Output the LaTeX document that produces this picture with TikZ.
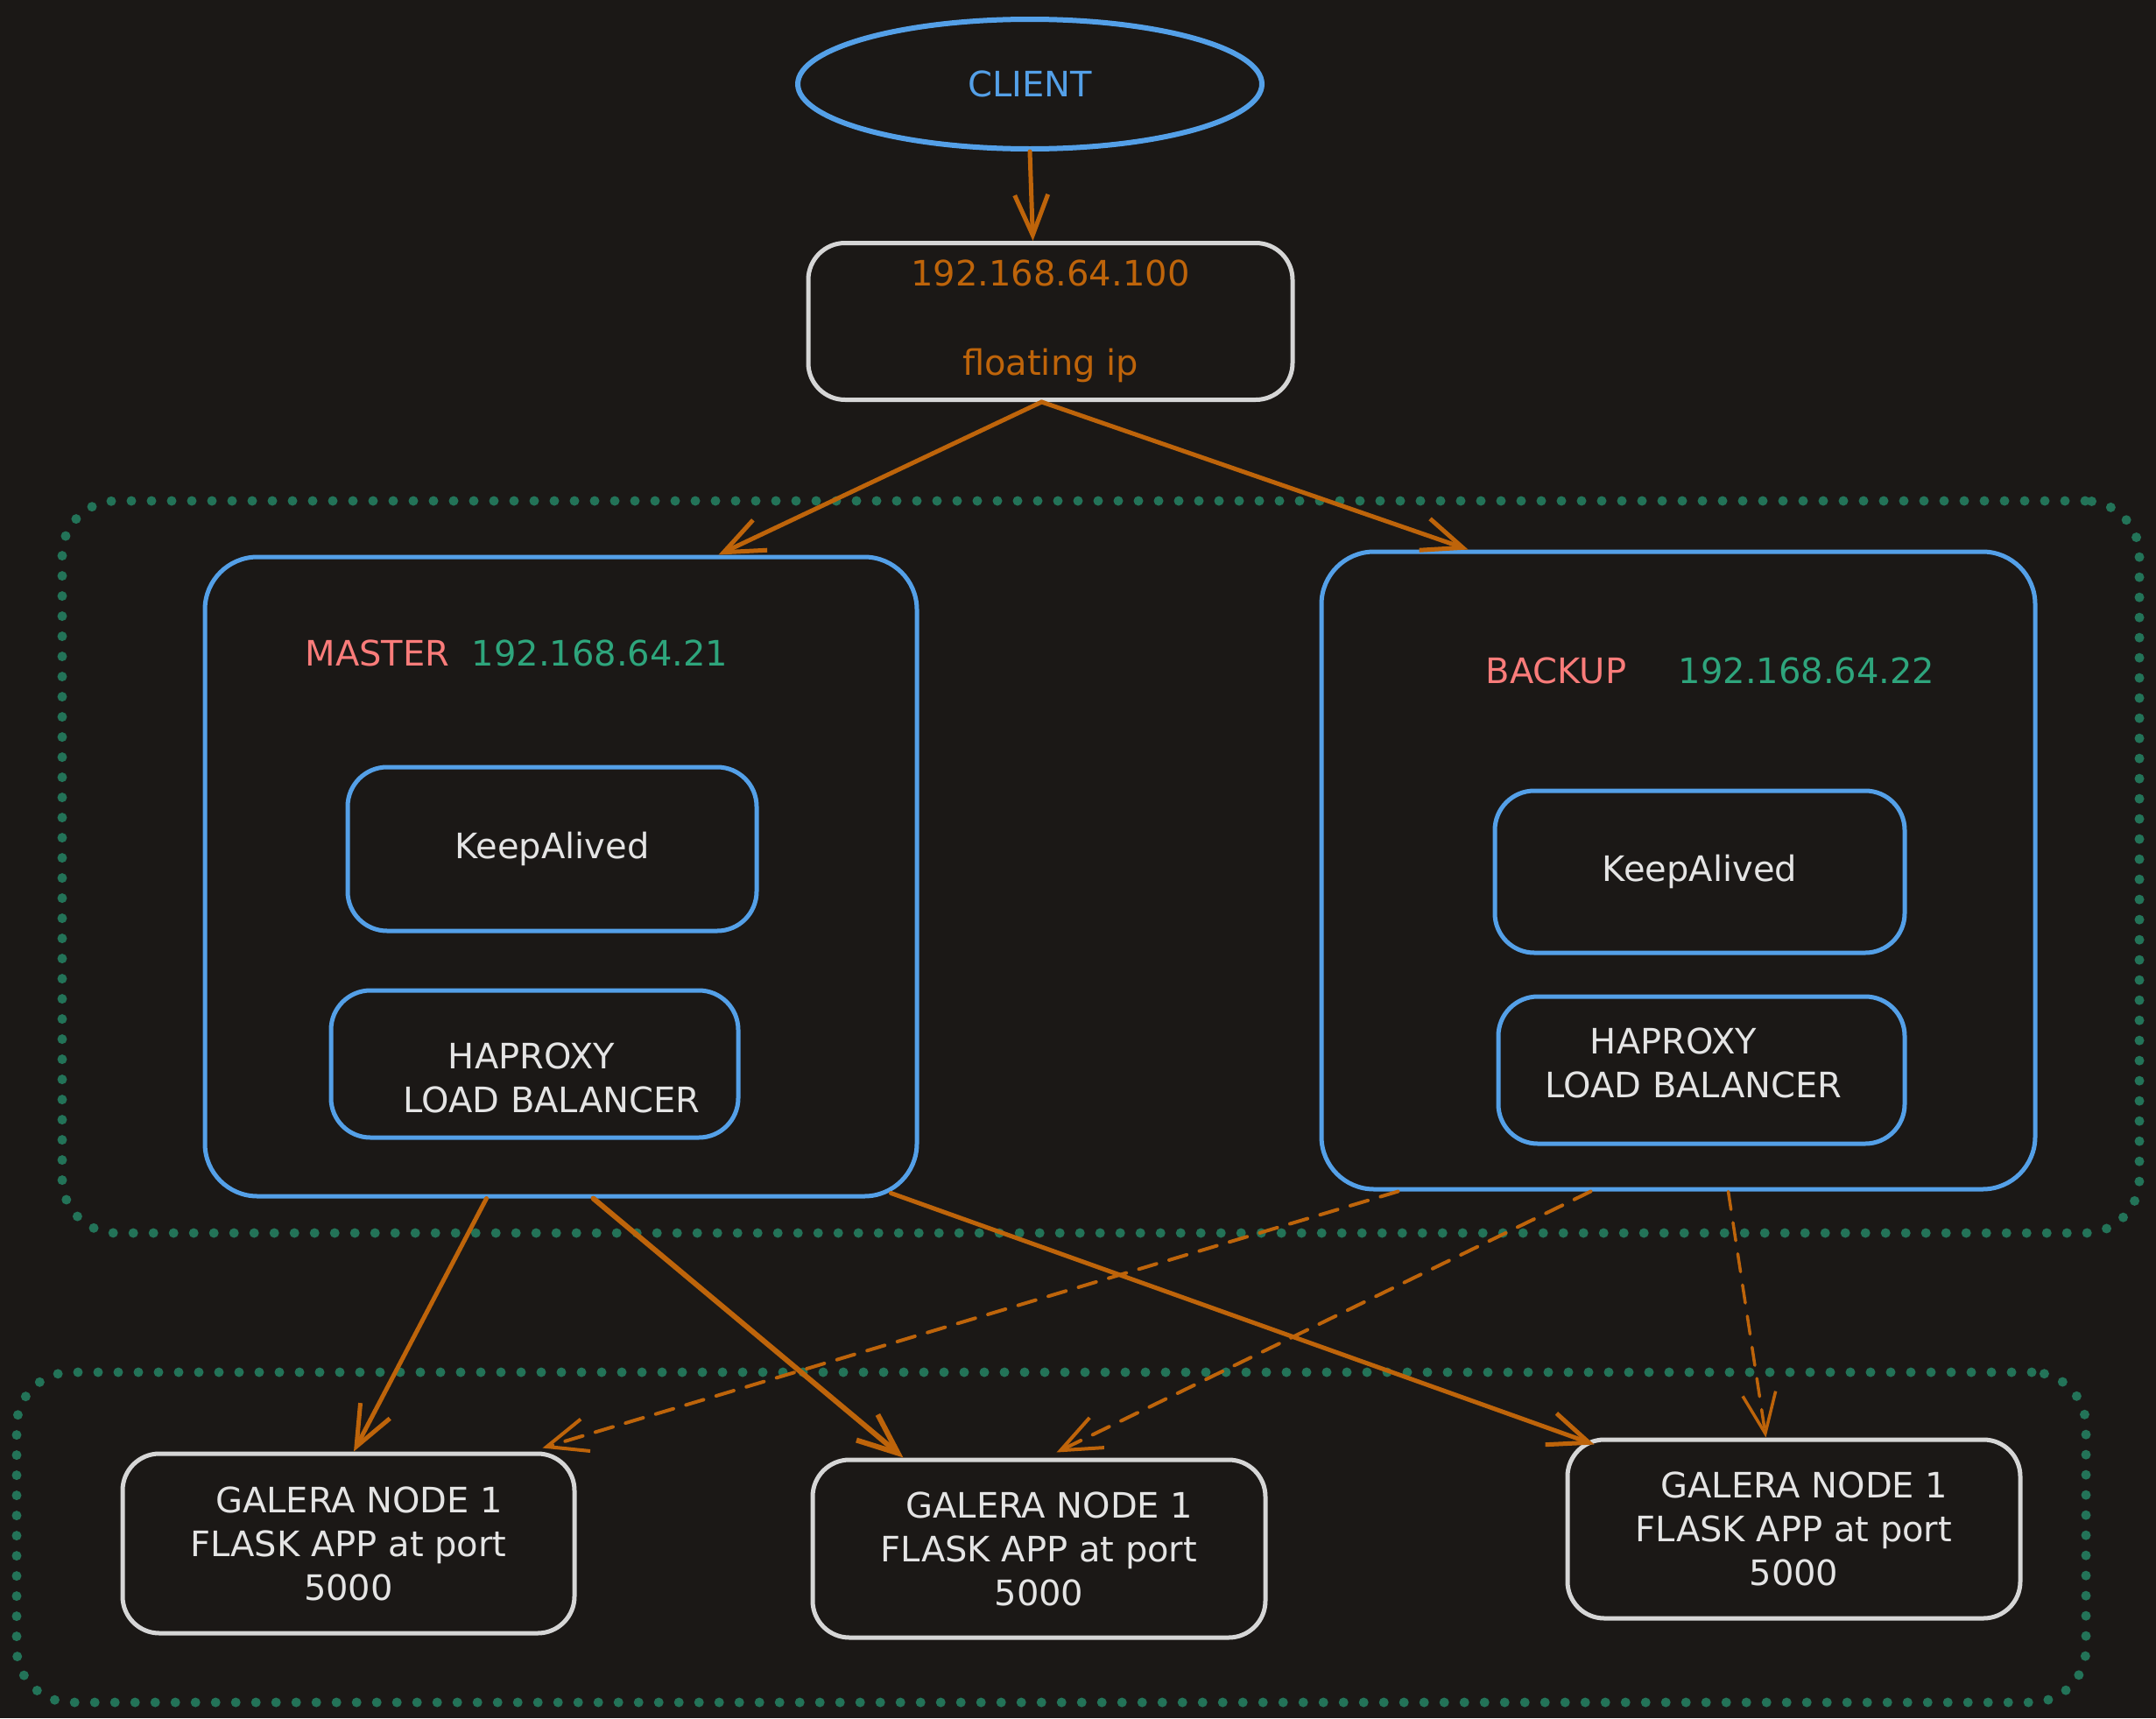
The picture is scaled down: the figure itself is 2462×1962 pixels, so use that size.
\documentclass[tikz,border=0pt]{standalone}
\usepackage{fontspec}
\setmainfont{DejaVu Sans}
\usetikzlibrary{arrows.meta,shapes.geometric}
\definecolor{bgc}{RGB}{27,24,22}
\definecolor{bluec}{RGB}{84,160,232}
\definecolor{grayc}{RGB}{214,214,214}
\definecolor{textc}{RGB}{228,228,228}
\definecolor{orangec}{RGB}{190,100,10}
\definecolor{pinkc}{RGB}{250,124,122}
\definecolor{greenc}{RGB}{46,165,124}
\definecolor{dotc}{RGB}{35,115,88}
\newcommand{\txt}{\fontsize{40}{50}\selectfont}
\begin{document}
\begin{tikzpicture}[x=1pt,y=-1pt,
  every node/.style={font=\txt, text=textc},
  graybox/.style={draw=grayc, line width=5pt, rounded corners=42pt, inner sep=0pt, align=center},
  bluebox/.style={draw=bluec, line width=5pt, rounded corners=45pt, inner sep=0pt, align=center},
  bigbox/.style={bluebox, rounded corners=60pt},
  group/.style={draw=dotc, line width=11pt, line cap=round, dash pattern=on 0pt off 23pt, rounded corners=62pt, inner sep=0pt},
  arr/.style={draw=orangec, line width=5pt, line cap=round, line join=round, -{Straight Barb[length=46pt,width=38pt]}},
  darr/.style={arr, line width=4pt, dash pattern=on 21pt off 15pt}]
\fill[bgc] (0,0) rectangle (2462,1962);
\useasboundingbox (0,0) rectangle (2462,1962);

% groups
\node[group, minimum width=2372pt, minimum height=836pt] (grp1) at (1257,990) {};
\node[group, minimum width=2363pt, minimum height=377pt] (grp2) at (1200.5,1755.5) {};

% client and floating ip
\node[ellipse, draw=bluec, line width=6pt, minimum width=530pt, minimum height=148pt, inner sep=0pt, text=bluec] (client) at (1176,96) {CLIENT};
\node[graybox, minimum width=553pt, minimum height=179pt, text=orangec] (fip) at (1199.5,367) {192.168.64.100\\[52pt]floating ip};

% master
\node[bigbox, minimum width=813pt, minimum height=730pt] (master) at (640.5,1001) {};
\node[text=pinkc] (mlabel) at (431,746) {MASTER};
\node[text=greenc] (mip) at (685,746) {192.168.64.21};
\node[bluebox, minimum width=467pt, minimum height=187pt] (ka1) at (630.5,969.5) {KeepAlived};
\node[bluebox, minimum width=465pt, minimum height=168pt] (ha1) at (610.5,1215) {};
\node (ha1a) at (607,1206) {HAPROXY};
\node (ha1b) at (630,1256) {LOAD BALANCER};

% backup
\node[bigbox, minimum width=815pt, minimum height=728pt] (backup) at (1916.5,994) {};
\node[text=pinkc] (blabel) at (1777,766) {BACKUP};
\node[text=greenc] (bip) at (2063,766) {192.168.64.22};
\node[bluebox, minimum width=468pt, minimum height=185pt] (ka2) at (1941,995.5) {KeepAlived};
\node[bluebox, minimum width=464pt, minimum height=168pt] (ha2) at (1943,1222) {};
\node (ha2a) at (1911,1189) {HAPROXY};
\node (ha2b) at (1934,1239) {LOAD BALANCER};

% galera nodes
\node[graybox, minimum width=516pt, minimum height=205pt] (g1) at (398,1762.5) {\hspace*{24pt}GALERA NODE 1\\FLASK APP at port\\5000};
\node[graybox, minimum width=517pt, minimum height=203pt] (g2) at (1186.5,1768.5) {\hspace*{24pt}GALERA NODE 1\\FLASK APP at port\\5000};
\node[graybox, minimum width=517pt, minimum height=204pt] (g3) at (2048.5,1746) {\hspace*{24pt}GALERA NODE 1\\FLASK APP at port\\5000};

% connectors
\draw[arr] (client.south) -- ([xshift=-20pt]fip.north);
\draw[arr] ([xshift=-10pt]fip.south) -- ([xshift=180pt]master.north);
\draw[arr] ([xshift=-10pt]fip.south) -- ([xshift=-240pt]backup.north);
\draw[arr] ([xshift=-85pt]master.south) -- ([xshift=6pt]g1.north);
\draw[arr, line width=6pt] ([xshift=37pt]master.south) -- ([xshift=-155pt]g2.north);
\draw[arr] ([xshift=377pt,yshift=6pt]master.south) -- ([xshift=33pt,yshift=-8pt]g3.north west);
\draw[darr] ([xshift=-320pt]backup.south) -- ([xshift=-39pt,yshift=4pt]g1.north east);
\draw[darr] ([xshift=-100pt]backup.south) -- ([xshift=20pt,yshift=6pt]g2.north);
\draw[darr, line width=3.5pt] ([xshift=57pt]backup.south) -- ([xshift=-32pt]g3.north);
\end{tikzpicture}
\end{document}
